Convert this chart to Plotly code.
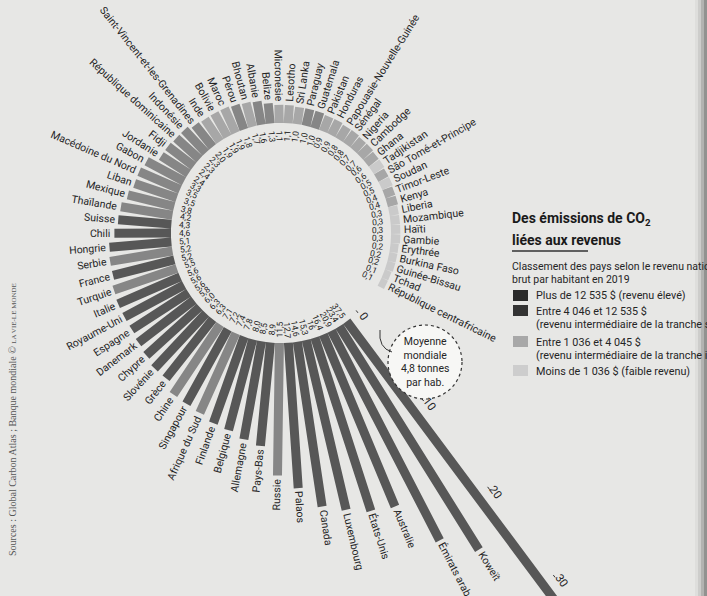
import numpy as np
import plotly.graph_objects as go

# ---------------- data ----------------
countries = [
    "République centrafricaine", "Tchad", "Guinée-Bissau", "Burkina Faso", "Érythrée",
    "Gambie", "Haïti", "Mozambique", "Liberia", "Kenya", "Timor-Leste", "Soudan",
    "São Tomé-et-Principe", "Tadjikistan", "Ghana", "Cambodge", "Nigeria", "Sénégal",
    "Papouasie-Nouvelle-Guinée", "Honduras", "Pakistan", "Guatemala", "Paraguay",
    "Sri Lanka", "Lesotho", "Micronésie", "Belize", "Albanie", "Bhoutan", "Pérou",
    "Maroc", "Bolivie", "Inde", "Saint-Vincent-et-les-Grenadines", "Indonésie",
    "République dominicaine", "Fidji", "Jordanie", "Gabon", "Macédoine du Nord",
    "Liban", "Mexique", "Thaïlande", "Suisse", "Chili", "Hongrie", "Serbie", "France",
    "Turquie", "Italie", "Royaume-Uni", "Espagne", "Danemark", "Chypre", "Slovénie",
    "Grèce", "Chine", "Singapour", "Afrique du Sud", "Finlande", "Belgique",
    "Allemagne", "Pays-Bas", "Russie", "Palaos", "Canada", "Luxembourg", "États-Unis",
    "Australie", "Émirats arabes unis", "Koweït", "Qatar",
]
values = [
    0.1, 0.1, 0.2, 0.2, 0.2, 0.3, 0.3, 0.3, 0.3, 0.4, 0.4, 0.5,
    0.5, 0.6, 0.6, 0.7, 0.7, 0.8, 0.8, 0.9, 0.9, 1.0, 1.0,
    1.0, 1.1, 1.1, 1.3, 1.6, 1.7, 1.8, 1.9, 1.9, 1.9, 2.0, 2.3,
    2.3, 2.4, 2.4, 3.3, 3.5, 3.5, 3.8, 4.2, 4.3, 4.6, 5.1, 5.2, 5.2,
    5.5, 5.6, 5.6, 5.6, 5.8, 6.0, 6.3, 6.3, 7.1, 7.2, 7.4, 7.8, 8.0,
    8.5, 8.9, 11.5, 12.7, 14.6, 15.3, 16.0, 16.4, 20.9, 23.4, 37.5,
]
groups = [
    "L", "L", "L", "L", "L", "L", "L", "L", "L", "LM", "LM", "L",
    "LM", "L", "LM", "LM", "LM", "LM", "LM", "LM", "LM", "UM", "UM",
    "LM", "LM", "LM", "UM", "UM", "LM", "UM", "LM", "LM", "LM", "UM", "UM",
    "UM", "UM", "UM", "UM", "UM", "UM", "UM", "UM", "H", "H", "H", "UM", "H",
    "UM", "H", "H", "H", "H", "H", "H", "H", "UM", "H", "UM", "H", "H",
    "H", "H", "UM", "H", "H", "H", "H", "H", "H", "H", "H",
]
group_order = ["H", "UM", "LM", "L"]
group_labels = {
    "H": ["Plus de 12 535 $ (revenu élevé)"],
    "UM": ["Entre 4 046 et 12 535 $", "(revenu intermédiaire de la tranche supérieure)"],
    "LM": ["Entre 1 036 et 4 045 $", "(revenu intermédiaire de la tranche inférieure)"],
    "L": ["Moins de 1 036 $ (faible revenu)"],
}
axis_ticks = [0, 10, 20, 30]
world_average = 4.8

# ---------------- style ----------------
W, H = 707, 596
CX, CY = 281, 233            # centre of the circle, in pixels from top-left
ANG0, STEP = -26.3, 4.69     # angle of first bar, angular step (degrees, CCW)
R_BASE, R_ZERO, PX_T = 110, 116, 11.0
BAR_W = 9.0
BG = "#e7e7e5"
bar_colors = {"H": "#575757", "UM": "#868686", "LM": "#a7a7a7", "L": "#cacaca"}
legend_colors = {"H": "#2a2a2a", "UM": "#333333", "LM": "#a8a8a8", "L": "#cdcdcd"}
FONT = "Roboto, Liberation Sans, sans-serif"
TXT = "#252525"

n = len(countries)
vals = np.array(values, dtype=float)
theta = np.radians(ANG0 + STEP * np.arange(n))
r_end = R_ZERO + PX_T * vals

fig = go.Figure()

# bars (one filled trace per income group)
for g in group_order:
    xs, ys = [], []
    for i in range(n):
        if groups[i] != g:
            continue
        t = theta[i]
        ux, uy = np.cos(t), np.sin(t)
        nx, ny = -uy, ux
        for r, s in [(R_BASE, -1), (r_end[i], -1), (r_end[i], 1), (R_BASE, 1)]:
            xs.append(r * ux + s * BAR_W / 2 * nx)
            ys.append(r * uy + s * BAR_W / 2 * ny)
        xs.append(None)
        ys.append(None)
    fig.add_trace(go.Scatter(x=xs, y=ys, mode="none", fill="toself",
                             fillcolor=bar_colors[g], hoverinfo="skip",
                             showlegend=False))

annotations = []


def fmt(v):
    s = f"{v:.1f}".replace(".", ",")
    return s[:-2] if s.endswith(",0") and v >= 10 else s


def hidden(s):
    return f"<span style='color:rgba(0,0,0,0)'>{s}</span>"


for i in range(n):
    deg = np.degrees(theta[i])
    a = deg % 360
    right = not (90 <= a < 269.5)
    t = theta[i]
    ux, uy = np.cos(t), np.sin(t)
    if right:
        ang = -deg
        txt = hidden(countries[i]) + countries[i]
    else:
        ang = 180 - deg
        txt = countries[i] + hidden(countries[i])
    ang = (ang + 180) % 360 - 180
    rl = r_end[i] + 3.5
    annotations.append(dict(x=rl * ux, y=rl * uy, xref="x", yref="y", text=txt,
                            showarrow=False, textangle=ang, xanchor="center",
                            yanchor="middle",
                            font=dict(family=FONT, size=10.5, color=TXT)))
    rv = 97
    annotations.append(dict(x=rv * ux, y=rv * uy, xref="x", yref="y", text=fmt(values[i]),
                            showarrow=False, textangle=ang, xanchor="center",
                            yanchor="middle",
                            font=dict(family=FONT, size=8.5, color="#1e1e1e")))

# scale along the last bar
tq = theta[-1]
ux, uy = np.cos(tq), np.sin(tq)
nx, ny = -uy, ux
tick_x, tick_y = [], []
for v in axis_ticks:
    r = R_ZERO + PX_T * v
    annotations.append(dict(x=r * ux + 17 * nx, y=r * uy + 17 * ny, xref="x", yref="y",
                            text=str(v), showarrow=False, textangle=-np.degrees(tq),
                            xanchor="center", yanchor="middle",
                            font=dict(family=FONT, size=11.5, color=TXT)))
    rt = r - 9
    tick_x += [rt * ux + 14 * nx, rt * ux + 14 * nx + 3 * ux, None]
    tick_y += [rt * uy + 14 * ny, rt * uy + 14 * ny + 3 * uy, None]
fig.add_trace(go.Scatter(x=tick_x, y=tick_y, mode="lines",
                         line=dict(color="#333", width=1), hoverinfo="skip",
                         showlegend=False))


def px(x, y):
    """pixel (from top-left) -> data coordinates"""
    return x - CX, CY - y


# world average callout
ccx, ccy = px(425, 362)
rc = 37
fig.add_shape(type="circle", xref="x", yref="y", x0=ccx - rc, x1=ccx + rc,
              y0=ccy - rc, y1=ccy + rc, fillcolor="#f7f7f5",
              line=dict(color="#333", width=1.2, dash="dot"))
annotations.append(dict(x=ccx, y=ccy, xref="x", yref="y",
                        text="Moyenne<br>mondiale<br>" + fmt(world_average) + " tonnes<br>par hab.",
                        showarrow=False, font=dict(family=FONT, size=10.5, color=TXT),
                        align="center"))
ax0, ay0 = px(392, 352)
ax1, ay1 = px(380, 330)
fig.add_shape(type="path", xref="x", yref="y",
              path=f"M {ax0},{ay0} Q {ax0 - 14},{ay0 + 4} {ax1},{ay1}",
              line=dict(color="#333", width=1))

# title and legend (paper coordinates)
def P(x, y):
    return x / W, 1 - y / H


def ann_px(x, y, text, size, bold=False, color=TXT, family=FONT, **kw):
    xx, yy = P(x, y)
    d = dict(x=xx, y=yy, xref="paper", yref="paper", text=f"<b>{text}</b>" if bold else text,
             showarrow=False, xanchor="left", yanchor="middle", align="left",
             font=dict(family=family, size=size, color=color))
    d.update(kw)
    annotations.append(d)


ann_px(510, 219, "Des émissions de CO<sub>2</sub>", 14, bold=True, color="#1a1a1a")
ann_px(510, 240, "liées aux revenus", 14, bold=True, color="#1a1a1a")
fig.add_shape(type="line", xref="paper", yref="paper", x0=512 / W, x1=588 / W,
              y0=1 - 251 / H, y1=1 - 251 / H, line=dict(color="#333", width=1.5))
ann_px(510, 266, "Classement des pays selon le revenu national", 10.5)
ann_px(510, 279, "brut par habitant en 2019", 10.5)

rows_y = {"H": 296, "UM": 311, "LM": 342, "L": 371}
for g in group_order:
    y = rows_y[g]
    fig.add_shape(type="rect", xref="paper", yref="paper", x0=513 / W, x1=528 / W,
                  y0=1 - (y + 5) / H, y1=1 - (y - 6) / H,
                  fillcolor=legend_colors[g], line=dict(width=0))
    for k, line in enumerate(group_labels[g]):
        ann_px(534, y + 13.5 * k, line, 10.8)

# source
ann_px(12, 420, "Sources : Global Carbon Atlas ; Banque mondiale © <span style='font-size:7px'>LA VIE-LE MONDE</span>",
       10, color="#555", family="Liberation Serif, DejaVu Serif, serif",
       textangle=-90, xanchor="center")

# right edge shading
for k, op in enumerate([0.05, 0.1, 0.18, 0.28]):
    fig.add_shape(type="rect", xref="paper", yref="paper", x0=(695 + 3 * k) / W, x1=1,
                  y0=0, y1=1, fillcolor=f"rgba(60,60,60,{op})", line=dict(width=0),
                  layer="below")

fig.update_layout(
    width=W, height=H, margin=dict(l=0, r=0, t=0, b=0),
    paper_bgcolor=BG, plot_bgcolor=BG, showlegend=False,
    xaxis=dict(range=[-CX, W - CX], visible=False, fixedrange=True),
    yaxis=dict(range=[CY - H, CY], visible=False, fixedrange=True),
    annotations=annotations,
)
fig.write_html("out.html", config={"displayModeBar": False},
               post_script="document.body.style.margin='0';"
                           f"document.body.style.backgroundColor='{BG}';")
